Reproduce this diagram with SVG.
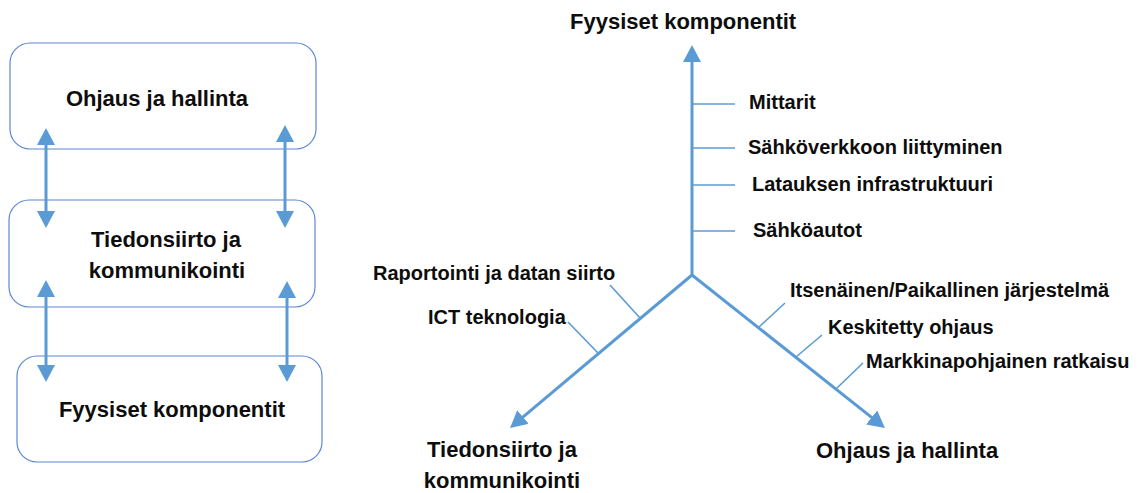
<svg xmlns="http://www.w3.org/2000/svg" width="1139" height="493" viewBox="0 0 1139 493">
  <style>
    .box { fill: #ffffff; stroke: #5B86D4; stroke-width: 1.2; }
    .t { font-family: "Liberation Sans", Arial, sans-serif; font-weight: bold; font-size: 22px; fill: #0d0d0d; }
    .l { font-family: "Liberation Sans", Arial, sans-serif; font-weight: bold; font-size: 20px; fill: #0d0d0d; }
    .arr { stroke: #5B9BD5; stroke-width: 3; fill: none; }
    .tick { stroke: #5B9BD5; stroke-width: 1.6; fill: none; }
  </style>
  <defs>
    <marker id="ah" viewBox="0 0 17 18" refX="8" refY="9" markerWidth="17" markerHeight="18" markerUnits="userSpaceOnUse" orient="auto-start-reverse">
      <path d="M0,0 L17,9 L0,18 z" fill="#5B9BD5"/>
    </marker>
  </defs>
  <rect width="1139" height="493" fill="#ffffff"/>

  <g id="box-ohjaus">
    <rect class="box" x="10" y="43" width="306" height="106" rx="20"/>
    <text class="t" x="157" y="106" text-anchor="middle">Ohjaus ja hallinta</text>
  </g>
  <g id="box-tiedonsiirto">
    <rect class="box" x="9" y="200" width="306" height="107" rx="20"/>
    <text class="t" x="166" y="247" text-anchor="middle" font-size="21.5">Tiedonsiirto ja</text>
    <text class="t" x="167" y="278" text-anchor="middle" font-size="21.5">kommunikointi</text>
  </g>
  <g id="box-fyysiset">
    <rect class="box" x="17" y="356" width="305" height="106" rx="20"/>
    <text class="t" x="172" y="417" text-anchor="middle">Fyysiset komponentit</text>
  </g>

  <g id="axis-fyysiset">
    <text class="t" x="570" y="29">Fyysiset komponentit</text>
    <text class="l" x="749" y="109">Mittarit</text>
    <text class="l" x="748" y="154">Sähköverkkoon liittyminen</text>
    <text class="l" x="752" y="191">Latauksen infrastruktuuri</text>
    <text class="l" x="753" y="237">Sähköautot</text>
  </g>
  <g id="axis-tiedonsiirto">
    <text class="l" x="373" y="280">Raportointi ja datan siirto</text>
    <text class="l" x="428" y="324">ICT teknologia</text>
    <text class="t" x="502" y="457" text-anchor="middle" font-size="21.5">Tiedonsiirto ja</text>
    <text class="t" x="502" y="488" text-anchor="middle" font-size="21.5">kommunikointi</text>
  </g>
  <g id="axis-ohjaus">
    <text class="l" x="790" y="297">Itsenäinen/Paikallinen järjestelmä</text>
    <text class="l" x="828" y="334">Keskitetty ohjaus</text>
    <text class="l" x="866" y="368">Markkinapohjainen ratkaisu</text>
    <text class="t" x="816" y="458">Ohjaus ja hallinta</text>
  </g>

  <g id="connectors">
    <line class="arr" x1="46" y1="137" x2="46" y2="219" marker-start="url(#ah)" marker-end="url(#ah)"/>
    <line class="arr" x1="285" y1="134" x2="285" y2="219" marker-start="url(#ah)" marker-end="url(#ah)"/>
    <line class="arr" x1="46" y1="289" x2="46" y2="373" marker-start="url(#ah)" marker-end="url(#ah)"/>
    <line class="arr" x1="287" y1="290" x2="287" y2="373" marker-start="url(#ah)" marker-end="url(#ah)"/>

    <line class="arr" x1="692" y1="275" x2="692" y2="54" marker-end="url(#ah)"/>
    <line class="arr" x1="692" y1="275" x2="516.9" y2="422.2" marker-end="url(#ah)"/>
    <line class="arr" x1="692" y1="275" x2="877.9" y2="422.4" marker-end="url(#ah)"/>

    <line class="tick" x1="692" y1="104" x2="735" y2="104"/>
    <line class="tick" x1="692" y1="148" x2="735" y2="148"/>
    <line class="tick" x1="692" y1="185" x2="735" y2="185"/>
    <line class="tick" x1="692" y1="231" x2="735" y2="231"/>

    <line class="tick" x1="640" y1="318" x2="610" y2="285"/>
    <line class="tick" x1="598" y1="353" x2="568" y2="322"/>

    <line class="tick" x1="759" y1="327" x2="785" y2="303"/>
    <line class="tick" x1="796" y1="357" x2="822" y2="335"/>
    <line class="tick" x1="837" y1="388" x2="863" y2="363"/>
  </g>
</svg>
